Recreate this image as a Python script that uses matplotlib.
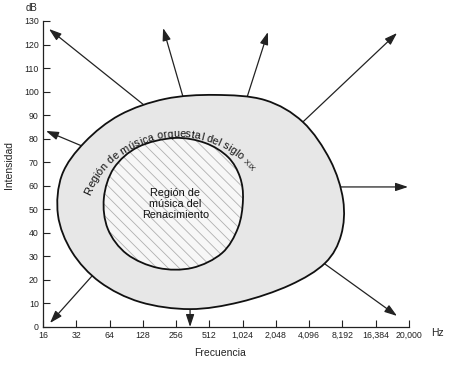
"""Regiones de intensidad/frecuencia: música del Renacimiento vs. orquestal del siglo XIX"""
import numpy as np
import matplotlib
matplotlib.use('Agg')
import matplotlib.pyplot as plt
from matplotlib.path import Path
from matplotlib.patches import PathPatch
from matplotlib.font_manager import FontProperties

plt.rcParams['font.family'] = ['Liberation Sans', 'DejaVu Sans']
plt.rcParams['hatch.linewidth'] = 0.6

# --- data (x = position on the octave axis, y = dB) ---
freq_labels = ['16', '32', '64', '128', '256', '512', '1,024', '2,048',
               '4,096', '8,192', '16,384', '20,000']
db_ticks = list(range(0, 131, 10))

# outline of the 19th-century orchestral region
outer_x = [5.17, 6.67, 7.81, 8.63, 9.02, 8.96, 8.48, 7.42, 5.92, 4.42, 2.92, 1.71,
           0.87, 0.45, 0.57, 1.26, 2.31, 3.67]
outer_y = [98.6, 96.4, 87.1, 70.9, 54.0, 39.1, 27.2, 17.8, 10.6, 7.6, 10.6, 19.1,
           31.9, 47.6, 64.6, 78.6, 90.1, 96.9]

# outline of the Renaissance region
inner_x = [3.94, 4.87, 5.56, 5.92, 6.01, 5.86, 5.38, 4.48, 3.46, 2.52, 1.95, 1.83, 2.13, 2.86]
inner_y = [80.3, 78.2, 72.2, 63.7, 54.0, 42.1, 31.4, 25.1, 25.1, 31.0, 41.6, 54.8, 67.5, 76.5]

# expansion arrows (start on the outer outline -> tip)
arrow_x0 = [3.07, 1.17, 1.50, 4.42, 8.45, 8.90, 7.81, 6.13, 4.21]
arrow_y0 = [93.9, 76.9, 22.1, 7.6, 27.0, 59.5, 87.1, 97.5, 97.7]
arrow_x1 = [0.18, 0.09, 0.21, 4.42, 10.64, 10.97, 10.64, 6.76, 3.61]
arrow_y1 = [126.6, 83.3, 1.7, 0.0, 4.7, 59.5, 124.9, 125.3, 127.0]


def closed_smooth_path(xs, ys):
    """Closed Catmull-Rom outline as cubic Bezier path"""
    pts = np.column_stack([xs, ys])
    n = len(pts)
    verts = [pts[0]]
    codes = [Path.MOVETO]
    for i in range(n):
        p0, p1, p2, p3 = pts[i - 1], pts[i], pts[(i + 1) % n], pts[(i + 2) % n]
        verts += [p1 + (p2 - p0) / 6, p2 - (p3 - p1) / 6, p2]
        codes += [Path.CURVE4] * 3
    verts.append(pts[0])
    codes.append(Path.CLOSEPOLY)
    return Path(verts, codes)


fig = plt.figure(figsize=(4.5, 3.68), dpi=100)
ax = fig.add_axes([43 / 450, 41 / 368, 366 / 450, 306 / 368])
ax.set_xlim(0, 11)
ax.set_ylim(0, 130)

outer = closed_smooth_path(outer_x, outer_y)
inner = closed_smooth_path(inner_x, inner_y)

ax.add_patch(PathPatch(outer, facecolor='#e7e7e7', edgecolor='#111111', lw=1.3, zorder=2))
ax.add_patch(PathPatch(inner, facecolor='#f7f7f7', edgecolor='#b0b0b0', lw=0,
                       hatch='\\\\\\', zorder=3))
ax.add_patch(PathPatch(inner, facecolor='none', edgecolor='#111111', lw=1.3, zorder=4))

for x0, y0, x1, y1 in zip(arrow_x0, arrow_y0, arrow_x1, arrow_y1):
    ax.annotate('', xy=(x1, y1), xytext=(x0, y0),
                arrowprops=dict(arrowstyle='-|>,head_length=0.75,head_width=0.25',
                                color='#222222', lw=0.9, shrinkA=0, shrinkB=0),
                zorder=1, annotation_clip=False)

ax.text(3.98, 52.3, 'Región de\nmúsica del\nRenacimiento', ha='center', va='center',
        fontsize=7.8, color='#111111', linespacing=1.15, zorder=5)

# curved label along an arc between the two outlines
fig.canvas.draw()
renderer = fig.canvas.get_renderer()
segments = [('Región de música orquestal del siglo ', 7.9), ('XIX', 5.8)]
chars = []
pos = 0.0
for s, size in segments:
    fp = FontProperties(family='Liberation Sans', size=size)
    prev = 0.0
    for k in range(1, len(s) + 1):
        w = renderer.get_text_width_height_descent(s[:k], fp, ismath=False)[0]
        chars.append((s[k - 1], size, pos + (prev + w) / 2))
        prev = w
    pos += prev

cen = ax.transData.transform((4.06, 39.9))
rpx = 96.0
t = np.radians(np.linspace(157, 20, 900))
px = cen[0] + rpx * np.cos(t)
py = cen[1] + rpx * np.sin(t)
arc = np.concatenate([[0], np.cumsum(np.hypot(np.diff(px), np.diff(py)))])
inv = ax.transData.inverted()
for ch, size, s_mid in chars:
    xx = np.interp(s_mid, arc, px)
    yy = np.interp(s_mid, arc, py)
    tt = np.interp(s_mid, arc, t)
    rot = np.degrees(tt) - 90
    dx, dy = inv.transform((xx, yy))
    ax.text(dx, dy, ch, fontsize=size, rotation=rot, rotation_mode='anchor',
            ha='center', va='baseline', color='#111111', zorder=5)

# axes styling
for side in ['top', 'right']:
    ax.spines[side].set_visible(False)
for side in ['left', 'bottom']:
    ax.spines[side].set_linewidth(0.9)
    ax.spines[side].set_color('#222222')
ax.set_xticks(range(len(freq_labels)))
ax.set_xticklabels(freq_labels)
ax.set_yticks(db_ticks)
ax.tick_params(direction='in', length=5, width=0.8, labelsize=6.3, pad=3, colors='#222222')

fig.text(31 / 450, 1 - 8 / 368, 'dB', ha='center', va='center', fontsize=7, color='#222222')
fig.text(437 / 450, 1 - 333 / 368, 'Hz', ha='center', va='center', fontsize=7.5, color='#222222')
fig.text(9 / 450, 1 - 165 / 368, 'Intensidad', ha='center', va='center', rotation=90,
         fontsize=7.5, color='#222222')
fig.text(220 / 450, 1 - 353 / 368, 'Frecuencia', ha='center', va='center',
         fontsize=7.5, color='#222222')

plt.savefig('out.png', dpi=100)
plt.close()
